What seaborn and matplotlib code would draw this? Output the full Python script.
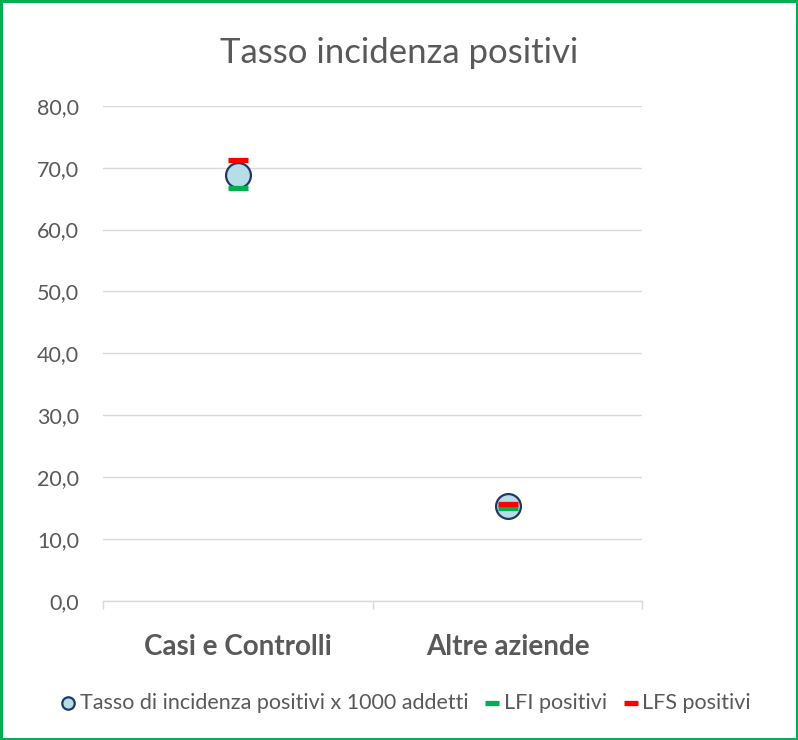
import matplotlib.pyplot as plt
import seaborn as sns
import pandas as pd
from matplotlib.ticker import FuncFormatter, FixedLocator

# Data
categories = ["Casi e Controlli", "Altre aziende"]
tasso = [68.8, 15.3]
lfi = [66.7, 15.0]
lfs = [71.2, 15.6]

df = pd.DataFrame({"categoria": categories, "tasso": tasso, "lfi": lfi, "lfs": lfs})

sns.set_theme(style="white")
plt.rcParams["font.family"] = ["Lato", "DejaVu Sans"]
gray = "#595959"

fig = plt.figure(figsize=(7.98, 7.40), dpi=100, edgecolor="#00b050", linewidth=2.5)
ax = fig.add_axes([0.129, 0.188, 0.676, 0.669])

sns.scatterplot(data=df, x="categoria", y="tasso", ax=ax, s=320, color="#b7dde8",
                edgecolor="#203864", linewidth=1.6, zorder=3,
                label="Tasso di incidenza positivi x 1000 addetti")
sns.scatterplot(data=df, x="categoria", y="lfi", ax=ax, marker="_", s=200,
                color="#00b050", linewidth=3.8, zorder=4, label="LFI positivi")
sns.scatterplot(data=df, x="categoria", y="lfs", ax=ax, marker="_", s=200,
                color="#ff0000", linewidth=3.8, zorder=5, label="LFS positivi")

ax.set_xlim(-0.5, 1.5)
ax.set_ylim(0, 80)
ax.set_yticks(range(0, 81, 10))
ax.yaxis.set_major_formatter(FuncFormatter(lambda v, p: f"{v:.1f}".replace(".", ",")))
ax.grid(axis="y", color="#d9d9d9", linewidth=1)
ax.set_axisbelow(True)
for s in ["top", "right", "left"]:
    ax.spines[s].set_visible(False)
ax.spines["bottom"].set_color("#d9d9d9")
ax.spines["bottom"].set_linewidth(1)

ax.tick_params(axis="y", length=0, pad=17, labelsize=15.5, labelcolor=gray)
ax.tick_params(axis="x", which="major", length=0, pad=24, labelsize=20, labelcolor=gray)
ax.xaxis.set_minor_locator(FixedLocator([-0.5, 0.5, 1.5]))
ax.tick_params(axis="x", which="minor", length=6, width=1, color="#d9d9d9", bottom=True)
for t in ax.get_xticklabels():
    t.set_fontweight("bold")
ax.set_xlabel("")
ax.set_ylabel("")

fig.suptitle("Tasso incidenza positivi", y=0.95, fontsize=25, color=gray)

handles, labels = ax.get_legend_handles_labels()
leg = ax.legend(handles, labels, loc="center", frameon=False, ncol=3, fontsize=15.5,
                labelcolor=gray, handletextpad=0.05, columnspacing=0.6, handlelength=1.0)
leg.set_bbox_to_anchor((404 / 798, 1 - 703 / 740), transform=fig.transFigure)
leg.legend_handles[0].set_sizes([80])
leg.legend_handles[1].set_sizes([110])
leg.legend_handles[2].set_sizes([110])

fig.savefig("out.png", dpi=100, edgecolor=fig.get_edgecolor())
